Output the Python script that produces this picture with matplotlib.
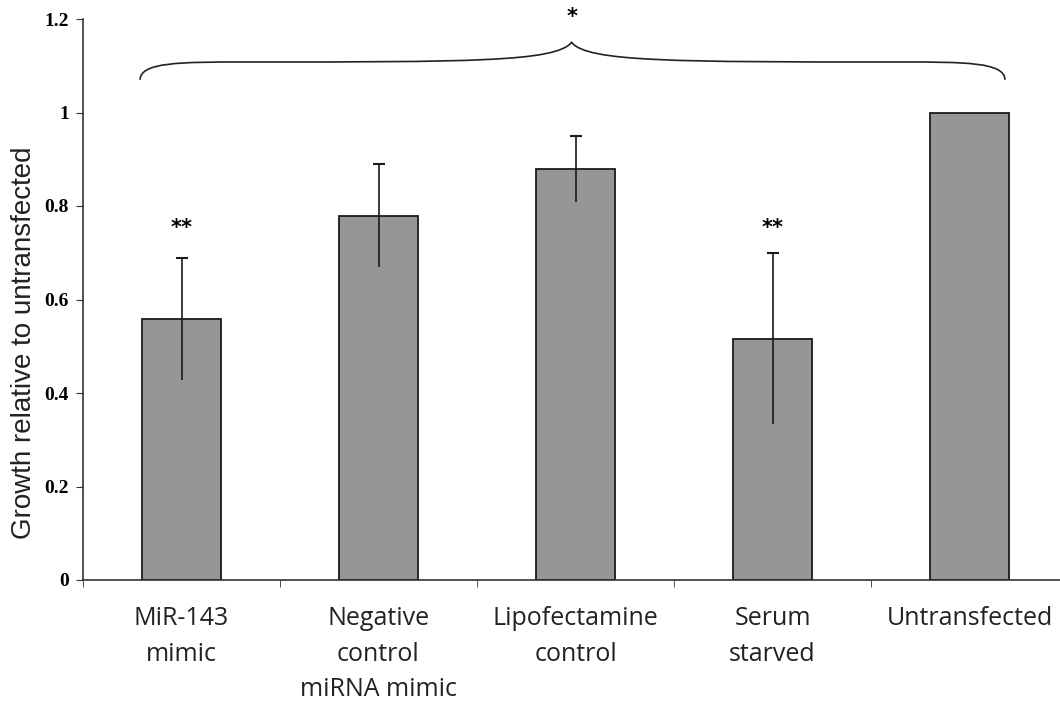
#!/usr/bin/env python3

import numpy as np
import matplotlib
matplotlib.use("Agg")
import matplotlib.pyplot as plt
from matplotlib.path import Path
from matplotlib.patches import PathPatch

categories = ["MiR-143\nmimic", "Negative\ncontrol\nmiRNA mimic",
              "Lipofectamine\ncontrol", "Serum\nstarved", "Untransfected"]
growth = [0.558, 0.779, 0.879, 0.516, 1.0]
errors = [0.13, 0.11, 0.07, 0.183, 0.0]
stars = ["**", "", "", "**", ""]
y_ticks = [0, 0.2, 0.4, 0.6, 0.8, 1, 1.2]
y_tick_labels = ["0", "0.2", "0.4", "0.6", "0.8", "1", "1.2"]


def draw_brace(ax, x0, x1, xm, y_end, y_flat, y_tip):
    # curly brace made of four cubic bezier pieces
    k = 0.12 * (x1 - x0)
    verts = [
        (x0, y_end),
        (x0, y_flat), (x0 + k * 0.4, y_flat), (x0 + k, y_flat),
        (xm - k, y_flat), (xm - k * 0.15, y_flat), (xm, y_tip),
        (xm + k * 0.15, y_flat), (xm + k, y_flat), (x1 - k, y_flat),
        (x1 - k * 0.4, y_flat), (x1, y_flat), (x1, y_end),
    ]
    codes = [Path.MOVETO] + [Path.CURVE4] * 12
    ax.add_patch(PathPatch(Path(verts, codes), fill=False, lw=1.2,
                           edgecolor="#222222", clip_on=False))


fig = plt.figure(figsize=(10.6, 7.02), dpi=100)
ax = fig.add_axes([83 / 1060, 122 / 702, 985 / 1060, 561 / 702])

x = np.arange(len(categories))
vals = np.array(growth)
errs = np.array(errors)

ax.bar(x, vals, width=0.4, color="#969696", edgecolor="#1a1a1a", linewidth=1.3, zorder=2)
has_err = errs > 0
ax.errorbar(x[has_err], vals[has_err], yerr=errs[has_err], fmt="none",
            ecolor="#1a1a1a", elinewidth=1.2, capsize=0, zorder=3)
ax.plot(x[has_err], (vals + errs)[has_err], ls="none", marker="_", ms=9,
        mew=1.5, color="#1a1a1a", zorder=3)

for xi, s in zip(x, stars):
    if s:
        ax.text(xi, 0.752, s, ha="center", va="center", fontsize=15,
                fontweight="bold", family="DejaVu Sans")

draw_brace(ax, -0.21, 4.18, 1.98, 1.07, 1.108, 1.15)
ax.text(1.98, 1.205, "*", ha="center", va="center", fontsize=15,
        fontweight="bold", family="DejaVu Sans", clip_on=False)

ax.set_xlim(-0.5, 4.5)
ax.set_ylim(0, 1.2)
ax.set_yticks(y_ticks)
ax.set_yticklabels(y_tick_labels, fontsize=14, fontweight="bold",
                   family="Liberation Serif")
ax.set_xticks(x)
ax.set_xticklabels(categories, fontsize=18, family="Open Sans", color="#222222",
                   linespacing=1.55)
ax.set_xticks(np.arange(-0.5, 4.6, 1), minor=True)
ax.tick_params(axis="x", which="major", length=0, pad=19)
ax.tick_params(axis="x", which="minor", length=5, direction="out", color="#333333")
ax.tick_params(axis="y", length=5, direction="out", color="#333333", pad=5)

ax.set_ylabel("Growth relative to untransfected", fontsize=20,
              family="Liberation Sans", color="#222222")
ax.yaxis.set_label_coords(-0.047, 0.4225)

for side in ["top", "right"]:
    ax.spines[side].set_visible(False)
for side in ["left", "bottom"]:
    ax.spines[side].set_color("#333333")
    ax.spines[side].set_linewidth(1.2)

fig.savefig("out.png", dpi=100)
